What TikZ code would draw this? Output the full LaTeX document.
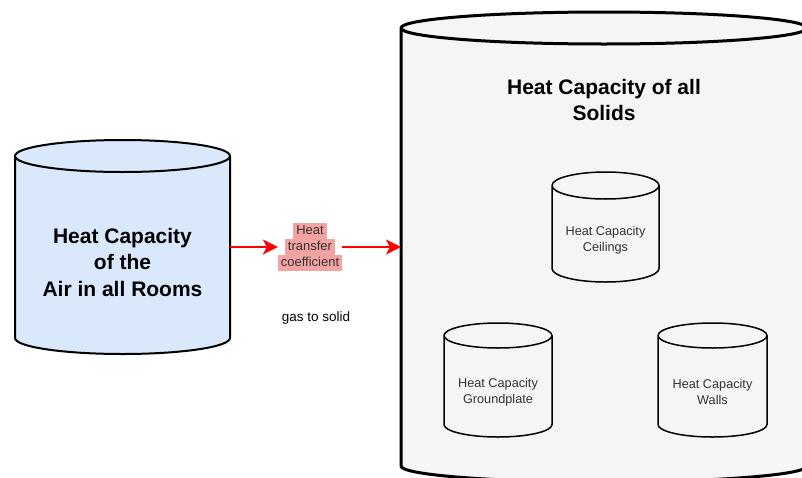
\documentclass[tikz,border=0pt]{standalone}
\usepackage{fontspec}
\setmainfont{Liberation Sans}
\usetikzlibrary{arrows.meta,calc,backgrounds}

\definecolor{airfill}{HTML}{DAE8FC}
\definecolor{solidfill}{HTML}{F5F5F5}
\definecolor{labelbg}{HTML}{F4A3A3}
\definecolor{softtext}{HTML}{333333}
\definecolor{flowred}{HTML}{FF0000}

% cylinder outline around a node: #1 node name, #2 half height of the ellipses, #3 path style
\newcommand\cylpath[3]{%
  \path[#3] let \p1=(#1.north west), \p2=(#1.south east), \n1={(\x2-\x1)/2} in
    (\x1,\y1-#2) -- (\x1,\y2+#2)
    arc[start angle=180,end angle=360,x radius=\n1,y radius=#2]
    -- (\x2,\y1-#2)
    arc[start angle=0,end angle=180,x radius=\n1,y radius=#2] -- cycle
    (\x1,\y1-#2) arc[start angle=180,end angle=360,x radius=\n1,y radius=#2];
}

\tikzset{
  cylbox/.style={inner sep=0pt, outer sep=0pt},
  bigtext/.style={align=center, text=black, font=\bfseries\fontsize{21}{26.5}\selectfont},
  smalltext/.style={align=center, text=softtext, font=\fontsize{12.7}{16}\selectfont},
  hlline/.style={fill=labelbg, inner xsep=3pt, inner ysep=0pt, outer sep=0pt,
                 text height=12pt, text depth=4.5pt, text=softtext,
                 font=\fontsize{13}{16}\selectfont},
  plaintext/.style={inner sep=0pt, text=black, font=\fontsize{13.5}{16}\selectfont},
  flow/.style={draw=flowred, line width=2.2pt,
               -{Stealth[length=15pt,width=15pt,inset=4pt]}},
}

\begin{document}
\begin{tikzpicture}[x=1pt,y=-1pt]
\useasboundingbox (0,0) rectangle (802,477);

% storage nodes
\node[cylbox, minimum width=215pt, minimum height=214pt,
      label={[bigtext,yshift=-15pt]center:{Heat Capacity\\of the\\Air in all Rooms}}]
      (air) at (122.5,247) {};
\node[cylbox, minimum width=406pt, minimum height=470pt,
      label={[bigtext,yshift=147pt]center:{Heat Capacity of all\\Solids}}]
      (solids) at (604,247) {};
\node[cylbox, minimum width=107pt, minimum height=110pt,
      label={[smalltext,yshift=-13.5pt]center:{Heat Capacity\\Ceilings}}]
      (ceil) at (605.5,227) {};
\node[cylbox, minimum width=108pt, minimum height=114pt,
      label={[smalltext,yshift=-12pt]center:{Heat Capacity\\Groundplate}}]
      (ground) at (498,380) {};
\node[cylbox, minimum width=109pt, minimum height=114pt,
      label={[smalltext,yshift=-12pt]center:{Heat Capacity\\Walls}}]
      (walls) at (712.5,380) {};

% transfer label: one highlighted box per line, stacked edge to edge
\node[hlline] (htc) at (310,247) {transfer};
\node[hlline, anchor=south] (htctop) at ([yshift=-0.3pt]htc.north) {Heat};
\node[hlline, anchor=north] (htcbot) at ([yshift=0.3pt]htc.south) {coefficient};
\node[plaintext] (g2s) at (316,318) {gas to solid};

% cylinder bodies behind the texts
\begin{scope}[on background layer]
  \fill[white] (0,0) rectangle (802,477);
  \clip (0,0) rectangle (802,477);
  \cylpath{air}{16pt}{fill=airfill, draw=black, line width=2pt}
  \cylpath{solids}{16pt}{fill=solidfill, draw=black, line width=3pt}
  \cylpath{ceil}{13.5pt}{fill=solidfill, draw=black, line width=1.5pt}
  \cylpath{ground}{12.5pt}{fill=solidfill, draw=black, line width=1.5pt}
  \cylpath{walls}{12.5pt}{fill=solidfill, draw=black, line width=1.5pt}
\end{scope}

% heat flow
\draw[flow] (air.east) -- (air.east -| htcbot.west);
\draw[flow] (htc.east -| htcbot.east) -- (solids.west);
\end{tikzpicture}
\end{document}
